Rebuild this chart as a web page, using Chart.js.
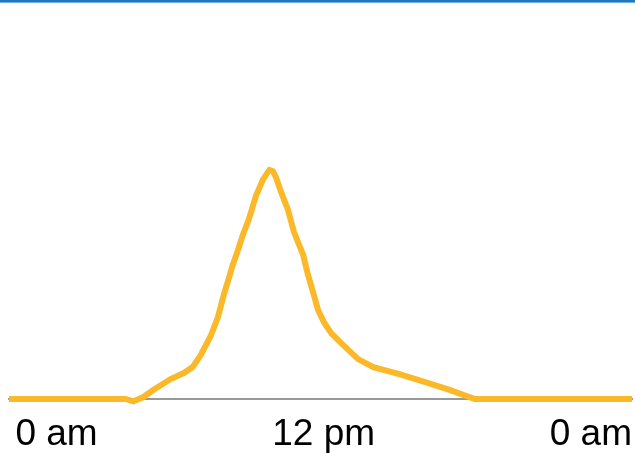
<!DOCTYPE html>
<html>
<head>
<meta charset="utf-8">
<script src="https://cdn.jsdelivr.net/npm/chart.js@4/dist/chart.umd.min.js"></script>
<style>
    html, body { margin: 0; padding: 0; background: #fff; }
    #wrap { position: relative; width: 635px; height: 453px; }
    #topbar { position: absolute; left: 0; top: 0; width: 635px; height: 2px; background: #2277bd; border-bottom: 1px solid #6aaee2; z-index: 2; }
</style>
</head>
<body>
<div id="wrap">
    <div id="topbar"></div>
    <canvas id="busy-chart" width="635" height="453"></canvas>
</div>
<script>
// jam dalam sehari (0 = tengah malam) dan tingkat keramaian
const hours = [-0.25, 4.28, 4.59, 4.98, 5.38, 6.04, 6.55, 6.90, 7.21, 7.60, 7.88, 8.11, 8.30, 8.46, 8.66, 8.85,
    9.05, 9.16, 9.36, 9.63, 9.83, 9.89, 10.02, 10.14, 10.34, 10.61, 10.84, 11.20, 11.39, 11.63, 11.78,
    12.02, 12.29, 12.68, 13.34, 13.93, 14.91, 15.92, 16.90, 17.88, 24];
const busy = [0, 0, -0.6, 0.5, 2.3, 5.0, 6.5, 8.0, 11.0, 15.8, 20.5, 26.1, 30.1, 33.6, 37.3, 41.1,
    44.4, 46.6, 50.9, 54.9, 56.9, 57.4, 57.1, 55.6, 51.9, 47.4, 41.9, 36.1, 31.1, 25.8, 22.3,
    19.1, 16.5, 14.0, 10.0, 8.0, 6.3, 4.3, 2.3, 0, 0];
const tickHours = [0, 12, 24];
const tickLabels = ['0 am', '12 pm', '0 am'];

const ctx = document.getElementById('busy-chart').getContext('2d');

new Chart(ctx, {
    type: 'line',
    data: {
        datasets: [{
            data: hours.map((h, i) => ({ x: h, y: busy[i] })),
            borderColor: '#fbb829',
            borderWidth: 6,
            pointRadius: 0,
            tension: 0,
            fill: false,
            clip: 8,
        }]
    },
    options: {
        responsive: false,
        animation: false,
        events: [],
        layout: { padding: { left: 9, right: 3, top: 0, bottom: 0 } },
        plugins: { legend: { display: false }, tooltip: { enabled: false } },
        scales: {
            x: {
                type: 'linear',
                min: -0.25,
                max: 24,
                grid: { display: false, drawTicks: false },
                border: { display: true, color: '#999999', width: 2 },
                afterBuildTicks: (scale) => { scale.ticks = tickHours.map(v => ({ value: v })); },
                afterFit: (scale) => {
                    // label tepi tidak boleh menyempitkan area grafik
                    scale.height = 54;
                    scale.paddingLeft = 0;
                    scale.paddingRight = 0;
                },
                ticks: {
                    autoSkip: false,
                    maxRotation: 0,
                    align: 'inner',
                    padding: 14,
                    color: '#000',
                    font: { family: '"Liberation Sans", Arial, sans-serif', size: 37 },
                    callback: (val) => tickLabels[tickHours.indexOf(val)],
                }
            },
            y: {
                display: false,
                min: 0,
                max: 100,
            }
        }
    }
});
</script>
</body>
</html>
